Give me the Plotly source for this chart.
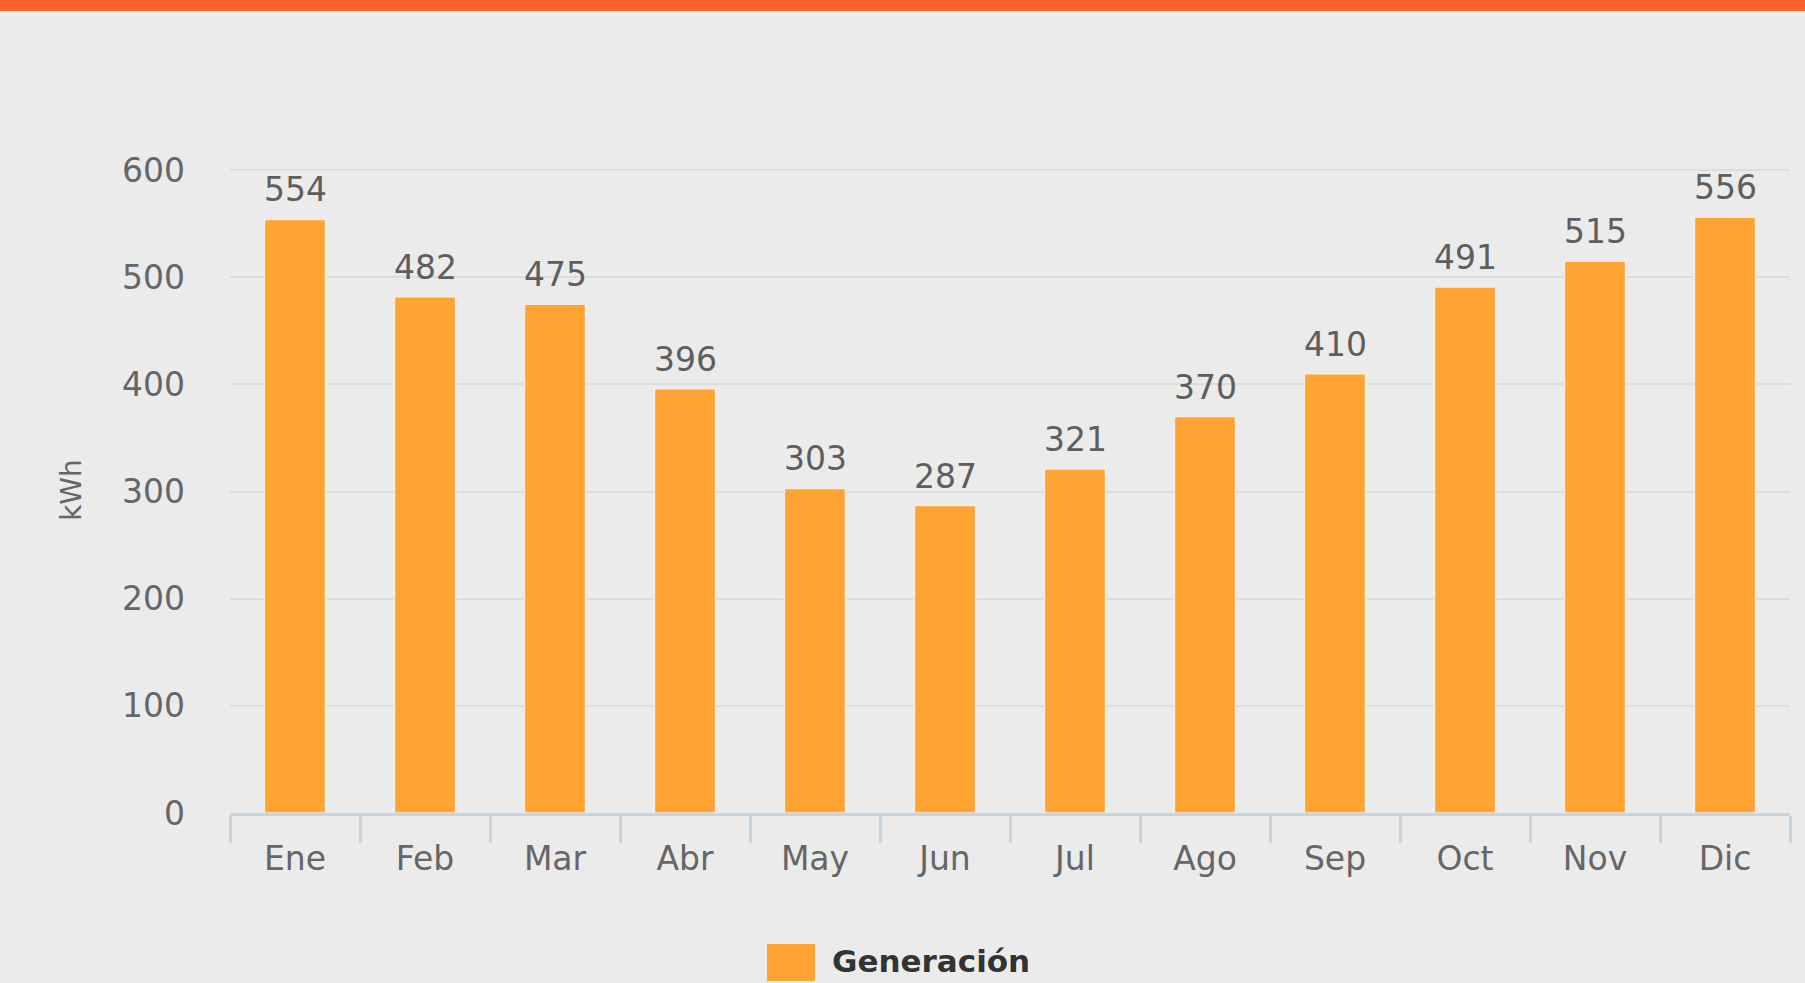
import plotly.graph_objects as go

months = ["Ene", "Feb", "Mar", "Abr", "May", "Jun", "Jul", "Ago", "Sep", "Oct", "Nov", "Dic"]
generacion = [554, 482, 475, 396, 303, 287, 321, 370, 410, 491, 515, 556]
y_ticks = [0, 100, 200, 300, 400, 500, 600]
series_name = "Generación"

W, H = 1805, 983
BG = "#EBEBEB"
BAR = "#FFA333"
STRIPE = "#FF602E"
AXIS = "#C6D4E2"
GRID = "#DCDCDC"
FONT = "DejaVu Sans"

T, B, L, R = 167, 170, 230, 15
PH = H - T - B
PW = W - L - R

fig = go.Figure()
fig.add_trace(go.Bar(
    x=months, y=generacion, name=series_name,
    marker=dict(color=BAR, line=dict(color="#F4EDE4", width=1.5)),
    showlegend=False, hoverinfo="x+y",
))

for m, v in zip(months, generacion):
    fig.add_annotation(x=m, y=v, text=str(v), showarrow=False,
                       yanchor="bottom", yshift=8,
                       font=dict(family=FONT, size=33, color="#5E5E5E"))

# top stripe
fig.add_shape(type="rect", xref="paper", yref="paper",
              x0=-1, x1=2, y0=1 + (T - 11) / PH, y1=1.5,
              fillcolor=STRIPE, line=dict(width=0), layer="above")

# legend (manual, large symbol)
ly0 = (H - B - 981) / PH
ly1 = (H - B - 944) / PH
lx0 = (767 - L) / PW
lx1 = (815 - L) / PW
fig.add_shape(type="rect", xref="paper", yref="paper",
              x0=lx0, x1=lx1, y0=ly0, y1=ly1,
              fillcolor=BAR, line=dict(width=0))
fig.add_annotation(xref="paper", yref="paper", x=(830 - L) / PW,
                   y=(H - B - 961) / PH,
                   xanchor="left", yanchor="middle", showarrow=False,
                   text="<b>" + series_name + "</b>",
                   font=dict(family=FONT, size=31, color="#333333"))

fig.update_layout(
    width=W, height=H,
    margin=dict(l=L, r=R, t=T, b=B),
    paper_bgcolor=BG, plot_bgcolor=BG,
    bargap=0.53,
    font=dict(family=FONT, color="#666666"),
    xaxis=dict(
        type="category", showgrid=False, showline=True, linecolor=AXIS, linewidth=3,
        ticks="outside", tickson="boundaries", ticklen=27, tickwidth=3, tickcolor=AXIS,
        tickfont=dict(family=FONT, size=33, color="#666666"),
        ticklabelstandoff=14,
    ),
    yaxis=dict(
        range=[0, 603], tickvals=y_ticks, showgrid=True, gridcolor=GRID, gridwidth=2,
        zeroline=False, showline=False, ticks="",
        tickfont=dict(family=FONT, size=33, color="#666666"),
        ticklabelstandoff=44,
        title=dict(text="kWh", standoff=32, font=dict(family=FONT, size=28, color="#666666")),
    ),
)

fig.write_html(
    "out.html",
    config={"displayModeBar": False},
    post_script="document.body.style.margin='0';document.body.style.overflow='hidden';",
)
